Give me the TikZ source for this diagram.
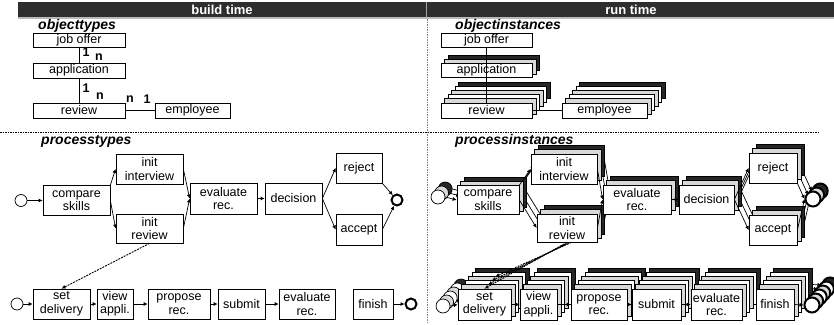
\documentclass[tikz,border=0pt]{standalone}
\usepackage{fontspec}
\setmainfont{Liberation Sans}
\usetikzlibrary{calc,arrows.meta}
\pgfdeclarelayer{bg}
\pgfdeclarelayer{mid}
\pgfsetlayers{bg,mid,main}

\tikzset{
	box/.style={draw, fill=white, inner sep=0pt, align=center, line width=0.7pt, font=\fontsize{12.5}{13.5}\selectfont},
	start/.style={draw, circle, fill=white, minimum size=12pt, inner sep=0pt, line width=0.7pt},
	stop/.style={draw, circle, fill=white, minimum size=11pt, inner sep=0pt, line width=2pt},
	flow/.style={-{Latex[length=4pt,width=4pt]}, line width=0.7pt},
	link/.style={dash pattern=on 2pt off 1pt, line width=0.9pt},
	sep/.style={dash pattern=on 1.5pt off 1pt, line width=0.7pt},
	mult/.style={inner sep=0pt, font=\bfseries\fontsize{12.5}{13}\selectfont},
	title/.style={anchor=west, inner sep=0pt, font=\bfseries\itshape\fontsize{14}{15}\selectfont},
	head/.style={inner sep=0pt, text=white, font=\bfseries\fontsize{13}{14}\selectfont}
}

% instances behind a node: name, layers behind
\newcommand{\pile}[2]{%
	\begin{pgfonlayer}{mid}
		\foreach \k in {#2,...,1}{
			\ifnum\k=#2 \def\clr{black!85}\else\ifodd\k\def\clr{gray!30}\else\def\clr{white}\fi\fi
			\draw[fill=\clr, line width=0.7pt] ($(#1.south west)+(3.6*\k,-4*\k)$) rectangle ($(#1.north east)+(3.6*\k,-4*\k)$);
		}
	\end{pgfonlayer}}

% instances of a start or end event: name, layers behind, radius, line width
\newcommand{\cpile}[4]{%
	\begin{pgfonlayer}{mid}
		\foreach \k in {#2,...,1}{
			\ifnum\k=#2 \def\clr{black!85}\else\ifodd\k\def\clr{gray!30}\else\def\clr{white}\fi\fi
			\draw[fill=\clr, line width=#4] ($(#1.center)+(3.6*\k,-4*\k)$) circle (#3);
		}
	\end{pgfonlayer}}

% flow between instances: from, to, layers behind
\newcommand{\iflow}[3]{%
	\draw[flow] (#1) -- (#2);
	\begin{pgfonlayer}{bg}
		\foreach \k in {1,...,#3}
			\draw[flow] ($(#1)+(3.6*\k,-4*\k)$) -- ($(#2)+(3.6*\k,-4*\k)$);
	\end{pgfonlayer}}

\begin{document}
\begin{tikzpicture}[x=1pt, y=-1pt]
	\useasboundingbox (0,0) rectangle (834,324);

	% header
	\fill[black!82] (18,2) rectangle (834,17);
	\draw[gray!55, line width=1.5pt] (18,18.2) -- (834,18.2);
	\draw[gray!70, line width=0.8pt] (426,2) -- (426,17);
	\node[head] (bt) at (222,10) {build time};
	\node[head] (rt) at (631,10) {run time};

	% separators
	\draw[sep] (0,132) -- (820,132);
	\draw[sep, gray] (427,19) -- (427,324);

	% object types
	\node[title] (ot) at (38,25.5) {objecttypes};
	\node[box, minimum width=92pt, minimum height=14pt] (jo) at (79,40) {job offer};
	\node[box, minimum width=92pt, minimum height=15pt] (ap) at (79,70.5) {application};
	\node[box, minimum width=92pt, minimum height=15pt] (rv) at (79,110.5) {review};
	\node[box, minimum width=75pt, minimum height=15pt] (em) at (192.5,110.5) {employee};
	\draw[line width=0.7pt] (jo) -- (ap);
	\draw[line width=0.7pt] (ap) -- (rv);
	\draw[line width=0.7pt] (rv) -- (em);
	\node[mult] (m1) at (86,52.5) {1};
	\node[mult] (m2) at (99,57.5) {n};
	\node[mult] (m3) at (86,88) {1};
	\node[mult] (m4) at (100,96.5) {n};
	\node[mult] (m5) at (130,99.5) {n};
	\node[mult] (m6) at (147,99.5) {1};

	% object instances
	\node[title] (oi) at (455,25.5) {objectinstances};
	\node[box, minimum width=91pt, minimum height=14pt] (jo2) at (486.5,40) {job offer};
	\node[box, minimum width=91pt, minimum height=14pt] (ap2) at (486.5,70.5) {application};
	\pile{ap2}{2}
	\node[box, minimum width=91pt, minimum height=15pt] (rv2) at (486.5,110.5) {review};
	\pile{rv2}{5}
	\node[box, minimum width=85pt, minimum height=15pt] (em2) at (604.5,110.5) {employee};
	\pile{em2}{5}
	\draw[line width=0.7pt] (jo2) -- (rv2);
	\draw[line width=0.7pt] (rv2) -- (em2);

	% process types
	\node[title] (pt) at (41,141) {processtypes};
	\node[start] (s1) at (21,200.5) {};
	\node[box, minimum width=67pt, minimum height=30pt] (cs) at (76.5,200.5) {compare\\skills};
	\node[box, minimum width=67pt, minimum height=30pt] (ii) at (149.5,169) {init\\interview};
	\node[box, minimum width=67pt, minimum height=29pt] (ir) at (149.5,228.5) {init\\review};
	\node[box, minimum width=67pt, minimum height=31pt] (ev) at (223.5,198.5) {evaluate\\rec.};
	\node[box, minimum width=57pt, minimum height=31pt] (de) at (293.5,198.5) {decision};
	\node[box, minimum width=46pt, minimum height=30pt] (rj) at (359,168) {reject};
	\node[box, minimum width=46pt, minimum height=31pt] (ac) at (359,229.5) {accept};
	\node[stop] (e1) at (397,200) {};
	\draw[flow] (s1) -- (cs);
	\draw[flow] (cs.north east) -- (ii.west);
	\draw[flow] (cs.east) -- (ir.west);
	\draw[flow] (ii.east) -- (ev.west);
	\draw[flow] (ir.east) -- (ev.west);
	\draw[flow] (ev) -- (de);
	\draw[flow] (de.east) -- (rj.west);
	\draw[flow] (de.east) -- (ac.west);
	\draw[flow] (rj.south east) -- (e1);
	\draw[flow] (ac.east) -- (e1);

	\node[start] (s2) at (17,304) {};
	\node[box, minimum width=57pt, minimum height=30pt] (sd) at (61.5,304) {set\\delivery};
	\node[box, minimum width=36pt, minimum height=30pt] (va) at (115,304) {view\\appli.};
	\node[box, minimum width=62pt, minimum height=30pt] (pr) at (179,304) {propose\\rec.};
	\node[box, minimum width=47pt, minimum height=30pt] (sb) at (241.5,304) {submit};
	\node[box, minimum width=56pt, minimum height=30pt] (ev2) at (307,304) {evaluate\\rec.};
	\node[box, minimum width=40pt, minimum height=30pt] (fi) at (373,304) {finish};
	\node[stop] (e2) at (411,304) {};
	\draw[flow] (s2) -- (sd);
	\draw[flow] (sd) -- (va);
	\draw[flow] (va) -- (pr);
	\draw[flow] (pr) -- (sb);
	\draw[flow] (sb) -- (ev2);
	\draw[flow] (fi) -- (e2);
	\draw[flow, link] (ir.south) -- (sd.north);

	% process instances
	\node[title] (pi) at (455,141) {processinstances};
	\node[start, minimum size=14pt] (s3) at (438,197) {};
	\cpile{s3}{2}{7pt}{0.7pt}
	\node[box, minimum width=62pt, minimum height=29pt] (cs2) at (488,200) {compare\\skills};
	\pile{cs2}{2}
	\node[box, minimum width=66pt, minimum height=30pt] (ii2) at (564,169) {init\\interview};
	\pile{ii2}{2}
	\node[box, minimum width=60pt, minimum height=28pt] (ir2) at (567,228) {init\\review};
	\pile{ir2}{2}
	\node[box, minimum width=68pt, minimum height=29pt] (ev3) at (637,199.5) {evaluate\\rec.};
	\pile{ev3}{2}
	\node[box, minimum width=55pt, minimum height=29pt] (de2) at (706.5,199.5) {decision};
	\pile{de2}{2}
	\node[box, minimum width=48pt, minimum height=30pt] (rj2) at (773,168) {reject};
	\pile{rj2}{2}
	\node[box, minimum width=48pt, minimum height=30pt] (ac2) at (773,230) {accept};
	\pile{ac2}{2}
	\node[stop, minimum size=15pt] (e3) at (813,199) {};
	\cpile{e3}{2}{7.5pt}{2pt}
	\iflow{s3.east}{cs2.west}{2}
	\iflow{cs2.north east}{ii2.west}{2}
	\iflow{cs2.east}{ir2.west}{2}
	\iflow{ii2.east}{ev3.west}{2}
	\iflow{ir2.east}{ev3.west}{2}
	\iflow{ev3.east}{de2.west}{2}
	\iflow{de2.east}{rj2.west}{2}
	\iflow{de2.east}{ac2.west}{2}
	\iflow{rj2.south east}{e3.west}{2}
	\iflow{ac2.east}{e3.west}{2}

	\node[start, minimum size=14pt] (s4) at (443,306) {};
	\cpile{s4}{5}{7pt}{0.7pt}
	\node[box, minimum width=53pt, minimum height=31pt] (sd2) at (484.5,304.5) {set\\delivery};
	\pile{sd2}{5}
	\node[box, minimum width=37pt, minimum height=31pt] (va2) at (538.5,304.5) {view\\appli.};
	\pile{va2}{5}
	\node[box, minimum width=56pt, minimum height=31pt] (pr2) at (599,304.5) {propose\\rec.};
	\pile{pr2}{5}
	\node[box, minimum width=49pt, minimum height=31pt] (sb2) at (656.5,304.5) {submit};
	\pile{sb2}{5}
	\node[box, minimum width=51pt, minimum height=31pt] (ev4) at (716.5,304.5) {evaluate\\rec.};
	\pile{ev4}{5}
	\node[box, minimum width=38pt, minimum height=31pt] (fi2) at (775,304.5) {finish};
	\pile{fi2}{5}
	\node[stop, minimum size=15pt] (e4) at (812,305) {};
	\cpile{e4}{5}{7.5pt}{2pt}
	\iflow{s4.east}{sd2.west}{5}
	\iflow{sd2.east}{va2.west}{5}
	\iflow{va2.east}{pr2.west}{5}
	\iflow{pr2.east}{sb2.west}{5}
	\iflow{sb2.east}{ev4.west}{5}
	\iflow{fi2.east}{e4.west}{5}
	\foreach \k in {0,...,3}
		\draw[flow, link] ($(ir2.south)+(1.5*\k,0)$) -- ($(sd2.north)+(3.6*\k,-4*\k)$);
\end{tikzpicture}
\end{document}
